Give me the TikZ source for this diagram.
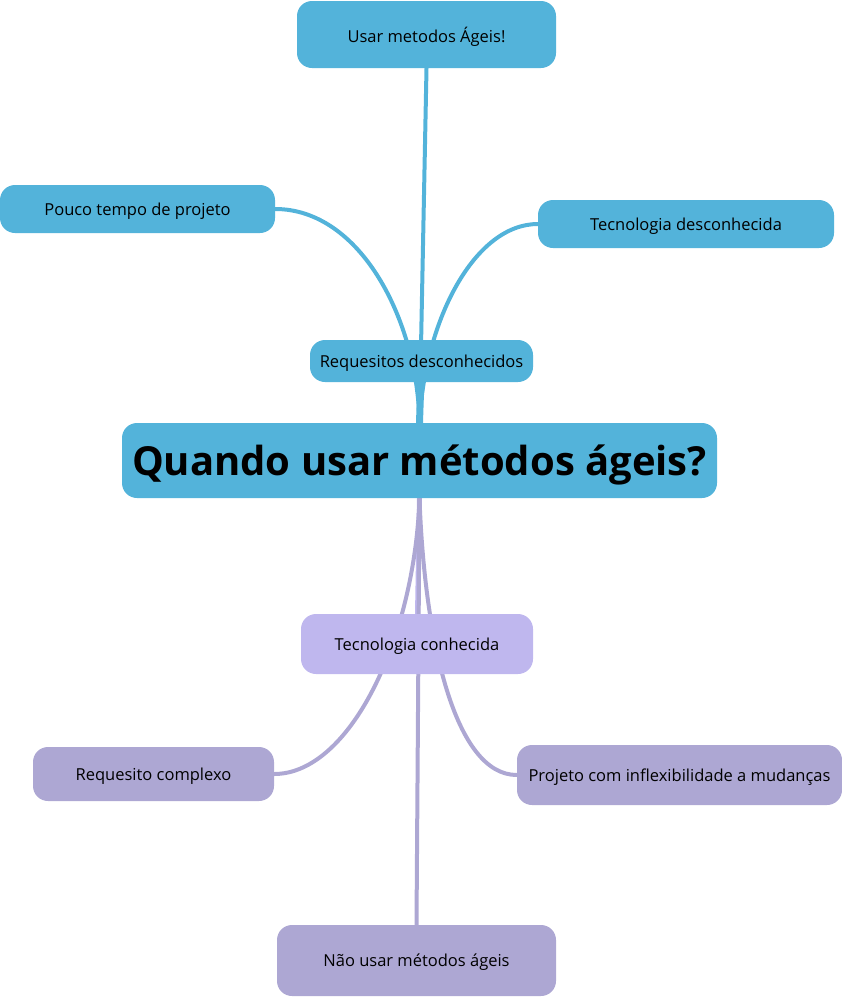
\documentclass[tikz,border=0pt]{standalone}
\usepackage{fontspec}
\setmainfont{Open Sans}
\usetikzlibrary{backgrounds}
\definecolor{azul}{HTML}{53B3DA}
\definecolor{lilas}{HTML}{BFB7EE}
\definecolor{roxo}{HTML}{ADA7D3}

\begin{document}
\begin{tikzpicture}[x=1pt,y=-1pt]
\tikzset{
  topico/.style={rounded corners=15pt, inner sep=0pt, text depth=0pt, text=black, font=\fontsize{16.5}{19}\selectfont},
  azulbox/.style={topico, fill=azul},
  roxobox/.style={topico, fill=roxo},
  ramo/.style={line width=4pt, line cap=round}
}
\useasboundingbox (0,0) rectangle (842,997);
\node[azulbox, minimum width=595pt, minimum height=75pt, font=\fontsize{40}{46}\bfseries\selectfont] (raiz) at (419.5,460.5) {Quando usar métodos ágeis?};
\node[azulbox, minimum width=223pt, minimum height=42pt] (reqd) at (421.5,361) {Requesitos desconhecidos};
\node[azulbox, minimum width=259pt, minimum height=67pt] (usar) at (426.5,34.5) {Usar metodos Ágeis!};
\node[azulbox, minimum width=275pt, minimum height=48pt] (pouco) at (137.5,209) {Pouco tempo de projeto};
\node[azulbox, minimum width=296pt, minimum height=48pt] (tecd) at (686,224) {Tecnologia desconhecida};
\node[topico, fill=lilas, minimum width=232pt, minimum height=60pt] (tecc) at (417,644) {Tecnologia conhecida};
\node[roxobox, minimum width=241pt, minimum height=54pt] (reqc) at (153.5,774) {Requesito complexo};
\node[roxobox, minimum width=325pt, minimum height=60pt] (proj) at (679.5,775) {Projeto com inflexibilidade a mudanças};
\node[roxobox, minimum width=279pt, minimum height=71pt] (nao) at (416.5,960.5) {Não usar métodos ágeis};

\begin{scope}[on background layer]
% ramos de cima
\draw[ramo, azul, line width=7pt] (raiz.north) -- (reqd.center);
\draw[ramo, azul] (raiz.north) -- (usar.south);
\draw[ramo, azul] (raiz.north) .. controls +(-2,-103) and +(85,0) .. (pouco.east);
\draw[ramo, azul] (raiz.north) .. controls +(5,-103) and +(-63,0) .. (tecd.west);
% ramos de baixo
\draw[ramo, lilas, line width=5pt] (raiz.south) -- (tecc.center);
\draw[ramo, roxo] (raiz.south) .. controls +(-5,142) and +(75,0) .. (reqc.east);
\draw[ramo, roxo] (raiz.south) .. controls +(5,142) and +(-62,0) .. (proj.west);
\draw[ramo, roxo] (raiz.south) -- (nao.north);
\end{scope}
\end{tikzpicture}
\end{document}
